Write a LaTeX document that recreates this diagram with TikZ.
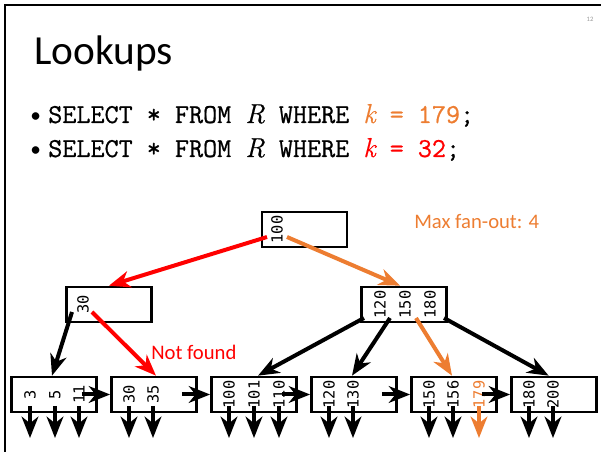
\documentclass[tikz,border=0pt]{standalone}
\usepackage{fontspec}
\setmainfont{Carlito}
\newfontfamily\keyfont{DejaVu Sans Mono}
\newfontfamily\sqlfont[FakeBold=0.7]{Latin Modern Mono}
\newfontfamily\lmrfont[FakeBold=0.7]{Latin Modern Roman}
\usetikzlibrary{arrows.meta}
\definecolor{ofg}{RGB}{237,125,49}
\definecolor{rfg}{RGB}{255,0,0}
\newcommand{\itv}[1]{{\lmrfont\itshape #1}}
\begin{document}
\begin{tikzpicture}[x=0.75pt,y=-0.75pt,
  box/.style={draw,line width=2pt,minimum width=63.75pt,minimum height=26.25pt,inner sep=0pt},
  key/.style={rotate=90,inner sep=0pt,font=\keyfont\fontsize{11.5pt}{12pt}\selectfont},
  ptr/.style={line width=3pt,-{Stealth[length=16pt,width=12.5pt,inset=5pt]}},
  lbl/.style={anchor=base west,inner sep=0pt,font=\fontsize{15.5pt}{18pt}\selectfont},
  sql/.style={anchor=base west,inner sep=0pt,font=\sqlfont\fontsize{20.5pt}{24pt}\selectfont}]
\useasboundingbox (0,0) rectangle (601,452);
% slide frame
\draw[line width=1.6pt] (5,452) -- (5,5) -- (601,5);
\node[text=black!40,font=\fontsize{5pt}{6pt}\selectfont] (pg) at (590,19) {12};
% title and bullets
\node[anchor=base west,inner sep=0pt,font=\fontsize{31pt}{36pt}\selectfont] (title) at (34,65) {Lookups};
\node[anchor=base west,inner sep=0pt,font=\fontsize{16pt}{20pt}\selectfont] (b1) at (30,123) {\textbullet};
\node[anchor=base west,inner sep=0pt,font=\fontsize{16pt}{20pt}\selectfont] (b2) at (30,157) {\textbullet};
\node[sql] (q1) at (48,123)
  {SELECT * FROM \itv{R} WHERE \textcolor{ofg}{\itv{k} = 179};};
\node[sql] (q2) at (48,157)
  {SELECT * FROM \itv{R} WHERE \textcolor{rfg}{\itv{k} = 32};};
\node[lbl,text=ofg] (fan) at (414,229) {Max fan-out: 4};
\node[lbl,text=rfg] (nf) at (151,360) {Not found};
% boxes
\node[box] (root) at (304.5,229.5) {};
\node[box] (li) at (109,304.5) {};
\node[box] (ri) at (404,304.5) {};
\node[box] (l1) at (54,394.5) {};
\node[box] (l2) at (154,394.5) {};
\node[box] (l3) at (254,394.5) {};
\node[box] (l4) at (354,394.5) {};
\node[box] (l5) at (454,394.5) {};
\node[box] (l6) at (554,394.5) {};
% keys
\node[key] (k0) at (277,229.5) {100};
\node[key] (ka) at (83,304.5) {30};
\node[key] (kb1) at (380,304.5) {120};
\node[key] (kb2) at (405,304.5) {150};
\node[key] (kb3) at (430,304.5) {180};
\node[key] (k11) at (30,394.5) {3};
\node[key] (k12) at (55,394.5) {5};
\node[key] (k13) at (79,394.5) {11};
\node[key] (k21) at (129,394.5) {30};
\node[key] (k22) at (153,394.5) {35};
\node[key] (k31) at (229,394.5) {100};
\node[key] (k32) at (254,394.5) {101};
\node[key] (k33) at (279,394.5) {110};
\node[key] (k41) at (329,394.5) {120};
\node[key] (k42) at (353,394.5) {130};
\node[key] (k51) at (429,394.5) {150};
\node[key] (k52) at (453,394.5) {156};
\node[key,text=ofg] (k53) at (479,394.5) {179};
\node[key] (k61) at (529,394.5) {180};
\node[key] (k62) at (553,394.5) {200};
% pointer start coordinates
\coordinate (p0a) at (267,237);
\coordinate (p0b) at (287,237);
\coordinate (pa0) at (72,312);
\coordinate (pa1) at (92,312);
\coordinate (pb0) at (364,318);
\coordinate (pb1) at (390,318);
\coordinate (pb2) at (416,318);
\coordinate (pb3) at (444,318);
% internal pointers
\draw[ptr,rfg] (p0a) -- (li.north);
\draw[ptr,ofg] (p0b) -- ([xshift=-3pt]ri.north);
\draw[ptr] (pa0) -- ([xshift=-1.5pt]l1.north);
\draw[ptr,rfg] (pa1) -- ([xshift=1.5pt]l2.north);
\draw[ptr] (pb0) -- ([xshift=3pt]l3.north);
\draw[ptr] (pb1) -- ([xshift=-1.5pt]l4.north);
\draw[ptr,ofg] (pb2) -- ([xshift=-1.5pt]l5.north);
\draw[ptr] (pb3) -- ([xshift=-4pt]l6.north);
% sibling pointers
\foreach \a/\b in {l1/l2,l2/l3,l3/l4,l4/l5,l5/l6}
  \draw[ptr] ([xshift=-12pt]\a.east) -- (\b.west);
% record pointers
\foreach \k in {k11,k12,k13,k21,k22,k31,k32,k33,k41,k42,k51,k52}
  \draw[ptr] (\k |- 0,406) -- (\k |- 0,438);
\draw[ptr,ofg] (k53 |- 0,406) -- (k53 |- 0,438);
\foreach \k in {k61,k62}
  \draw[ptr] (\k |- 0,406) -- (\k |- 0,438);
\end{tikzpicture}
\end{document}
